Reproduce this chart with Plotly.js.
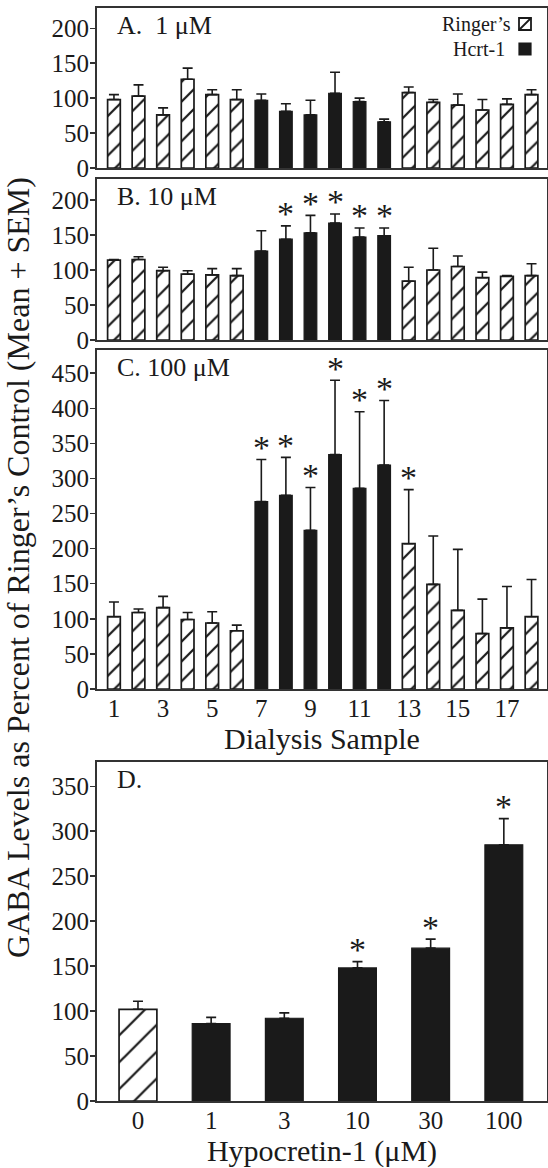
<!DOCTYPE html>
<html>
<head>
<meta charset="utf-8">
<script src="https://cdn.plot.ly/plotly-3.0.1.min.js"></script>
<style>html,body{margin:0;padding:0;background:#fff;}#chart{width:548px;height:1168px;}</style>
</head>
<body>
<div id="chart"></div>
<script>
// ---- Data ----
const samples = [1,2,3,4,5,6,7,8,9,10,11,12,13,14,15,16,17,18];
const phaseABC = ['R','R','R','R','R','R','H','H','H','H','H','H','R','R','R','R','R','R'];

const meanA = [98,103,76,127,105,98,97,81,76,107,95,66,108,94,90,83,91,105];
const semA  = [7,16,10,16,7,14,9,11,21,30,5,4,8,4,16,15,8,7];
const sigA  = [0,0,0,0,0,0,0,0,0,0,0,0,0,0,0,0,0,0];

const meanB = [114,115,99,94,93,92,127,144,153,167,147,149,84,100,105,89,91,92];
const semB  = [1,4,5,5,9,10,29,19,25,13,13,11,20,31,15,8,1,17];
const sigB  = [0,0,0,0,0,0,0,1,1,1,1,1,0,0,0,0,0,0];

const meanC = [103,109,116,99,94,83,267,276,226,334,286,319,207,149,112,79,87,103];
const semC  = [21,5,16,10,16,8,60,54,61,106,109,92,77,69,87,49,59,53];
const sigC  = [0,0,0,0,0,0,1,1,1,1,1,1,1,0,0,0,0,0];

const doses  = ['0','1','3','10','30','100'];
const doseIdx = [0,1,2,3,4,5];
const phaseD = ['R','H','H','H','H','H'];
const meanD  = [102,86,92,148,170,285];
const semD   = [9,7,6,7,10,29];
const sigD   = [0,0,0,1,1,1];

const xTickABC = [1,3,5,7,9,11,13,15,17];
const panelLabels = ['A.  1 \u03bcM','B. 10 \u03bcM','C. 100 \u03bcM','D.'];
const legendNames = ['Ringer\u2019s','Hcrt-1'];

// ---- Styles ----
const FONT = '"Liberation Serif", "Times New Roman", Times, serif';
const INK = '#1a1a1a';
const BLACKBAR = '#1a1a1a';

function pick(arr, phase, p){ return arr.filter((v,i)=>phase[i]===p); }

function barTraces(x, mean, sem, phase, xa, ya, patSize, solid){
  const zeros = sem.map(()=>0);
  const common = (p) => ({
    type:'bar', x:pick(x,phase,p), y:pick(mean,phase,p), xaxis:xa, yaxis:ya,
    error_y:{type:'data', symmetric:false, array:pick(sem,phase,p), arrayminus:pick(zeros,phase,p),
             color:INK, thickness:1.6, width:5},
    hoverinfo:'skip', showlegend:false
  });
  const ring = common('R');
  ring.marker = {color:'#ffffff', line:{color:INK, width:1.7},
                 pattern:{shape:'/', fgcolor:INK, bgcolor:'#ffffff', size:patSize, solidity:solid}};
  const hcrt = common('H');
  hcrt.marker = {color:BLACKBAR, line:{color:INK, width:1.2}};
  return [ring, hcrt];
}
function starAnnots(x, mean, sem, sig, xa, ya){
  const out=[];
  sig.forEach((s,i)=>{ if(s){ out.push({text:'*', x:x[i], y:mean[i]+sem[i], xref:xa, yref:ya,
      xanchor:'center', yanchor:'middle', yshift:12, showarrow:false,
      font:{family:FONT, size:34, color:INK}}); } });
  return out;
}

const data = [].concat(
  barTraces(samples, meanA, semA, phaseABC, 'x', 'y', 14, 0.16),
  barTraces(samples, meanB, semB, phaseABC, 'x2', 'y2', 14, 0.16),
  barTraces(samples, meanC, semC, phaseABC, 'x3', 'y3', 14, 0.16),
  barTraces(doseIdx, meanD, semD, phaseD, 'x4', 'y4', 19, 0.12)
);

const tickFont = {family:FONT, size:25, color:INK};
function xAxis(anchor, range, extra){
  return Object.assign({anchor:anchor, range:range, showline:true, mirror:true, linecolor:'#333',
    linewidth:2, ticks:'', showticklabels:false, showgrid:false, zeroline:false, fixedrange:true,
    ticklabelstandoff:-4, tickfont:tickFont}, extra||{});
}
function yAxis(anchor, domain, range, dtick){
  return {anchor:anchor, domain:domain, range:range, dtick:dtick, tick0:0, showline:true, mirror:true,
    linecolor:'#333', linewidth:2, ticks:'outside', ticklen:5, tickwidth:1.5, tickcolor:'#333',
    ticklabelstandoff:-4,
    showgrid:false, zeroline:false, tickfont:tickFont, fixedrange:true};
}

const PL=97, PT=8, PB=67, W=548, H=1168;
const plotH = H-PT-PB;
const py = v => (H-PB-v)/plotH;          // pixel y -> paper y
const px = v => (v-PL)/(W-PL-1);         // pixel x -> paper x

const panelFont = {family:FONT,size:26,color:INK};
const titleFont = {family:FONT,size:30,color:INK};

const layout = {
  width:W, height:H,
  margin:{l:PL, r:1, t:PT, b:PB},
  paper_bgcolor:'#fff', plot_bgcolor:'#fff',
  font:{family:FONT, color:INK},
  barmode:'overlay', bargap:0.483,
  showlegend:false,
  xaxis: xAxis('y', [0.31,18.63]),
  xaxis2: xAxis('y2', [0.31,18.63]),
  xaxis3: xAxis('y3', [0.31,18.63], {showticklabels:true, tickmode:'array', tickvals:xTickABC,
           ticktext:xTickABC.map(String), title:{text:'Dialysis Sample', font:titleFont, standoff:0}}),
  xaxis4: xAxis('y4', [-0.56,5.59], {showticklabels:true, tickmode:'array', tickvals:doseIdx, ticktext:doses,
           title:{text:'Hypocretin-1 (\u03bcM)', font:titleFont, standoff:0}}),
  yaxis: yAxis('x', [py(168), 1], [0,229], 50),
  yaxis2: yAxis('x2', [py(340), py(179)], [0,230], 50),
  yaxis3: yAxis('x3', [py(689), py(350)], [0,483], 50),
  yaxis4: yAxis('x4', [0, py(762)], [0,377], 50),
  annotations: [
    {text:panelLabels[0], xref:'x domain', yref:'y domain', x:0.04, y:0.995, xanchor:'left', yanchor:'top', showarrow:false, font:panelFont},
    {text:panelLabels[1], xref:'x2 domain', yref:'y2 domain', x:0.04, y:0.995, xanchor:'left', yanchor:'top', showarrow:false, font:panelFont},
    {text:panelLabels[2], xref:'x3 domain', yref:'y3 domain', x:0.04, y:0.997, xanchor:'left', yanchor:'top', showarrow:false, font:panelFont},
    {text:panelLabels[3], xref:'x4 domain', yref:'y4 domain', x:0.04, y:0.997, xanchor:'left', yanchor:'top', showarrow:false, font:panelFont},
    {text:legendNames[0], xref:'paper', yref:'paper', x:px(513), y:py(24), xanchor:'right', yanchor:'middle', showarrow:false, font:{family:FONT,size:20,color:INK}},
    {text:legendNames[1], xref:'paper', yref:'paper', x:px(507), y:py(49), xanchor:'right', yanchor:'middle', showarrow:false, font:{family:FONT,size:20,color:INK}},
    {text:'GABA Levels as Percent of Ringer\u2019s Control (Mean + SEM)', xref:'paper', yref:'paper',
     x:px(18), y:py(568), xanchor:'center', yanchor:'middle', textangle:-90, showarrow:false,
     font:{family:FONT,size:32,color:INK}}
  ].concat(
    starAnnots(samples, meanB, semB, sigB, 'x2', 'y2'),
    starAnnots(samples, meanC, semC, sigC, 'x3', 'y3'),
    starAnnots(doseIdx, meanD, semD, sigD, 'x4', 'y4')
  ),
  shapes: [
    {type:'rect', xref:'paper', yref:'paper', x0:px(519), x1:px(531), y0:py(30), y1:py(18), line:{color:INK,width:1.8}, fillcolor:'#fff'},
    {type:'line', xref:'paper', yref:'paper', x0:px(519), x1:px(531), y0:py(30), y1:py(18), line:{color:INK,width:1.8}},
    {type:'rect', xref:'paper', yref:'paper', x0:px(519), x1:px(531), y0:py(55), y1:py(43), line:{color:INK,width:1.2}, fillcolor:BLACKBAR}
  ]
};

Plotly.newPlot('chart', data, layout, {staticPlot:true, displayModeBar:false});
</script>
</body>
</html>
